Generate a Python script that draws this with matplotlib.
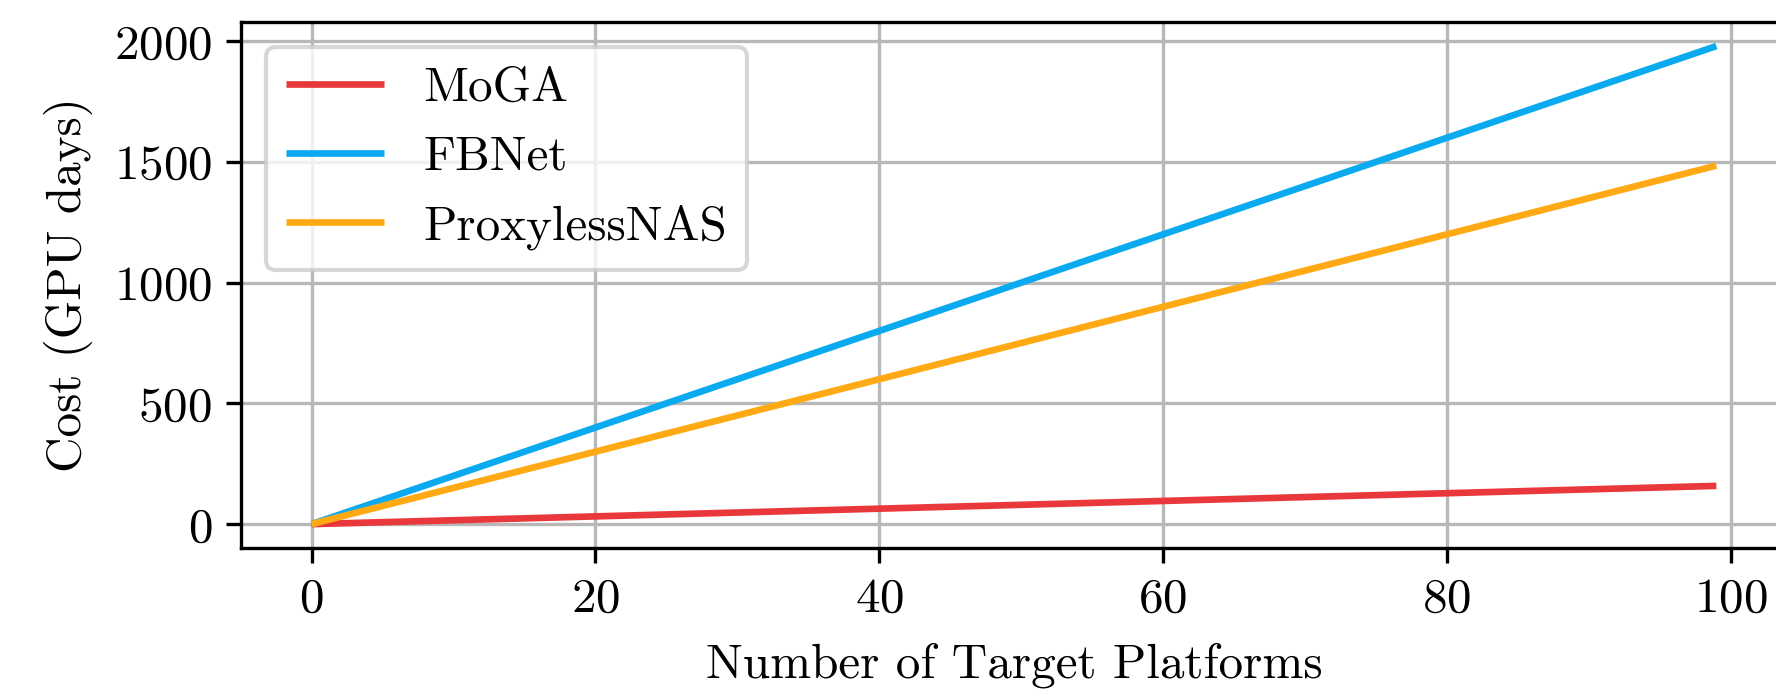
import matplotlib
matplotlib.use("Agg")
import matplotlib.pyplot as plt

# Search cost versus number of deployment platforms
platforms = [0, 99]
moga_cost = [0, 158.4]
fbnet_cost = [0, 1980]
proxyless_cost = [0, 1485]

series_names = ["MoGA", "FBNet", "ProxylessNAS"]
series_colors = ["#e8383b", "#0aaaf0", "#ffaa14"]

plt.rcParams.update({
    "font.family": "serif",
    "font.serif": ["cmr10"],
    "mathtext.fontset": "cm",
    "axes.formatter.use_mathtext": True,
    "font.size": 11.8,
    "axes.linewidth": 0.8,
})

fig = plt.figure(figsize=(1777 / 300, 693 / 300), dpi=300)
ax = fig.add_axes([0.1358, 0.2092, 1.0054 - 0.1358, 0.968 - 0.2092])

for ys, name, col in zip([moga_cost, fbnet_cost, proxyless_cost], series_names, series_colors):
    ax.plot(platforms, ys, color=col, lw=1.6, label=name, solid_capstyle="butt")

ax.set_xticks([0, 20, 40, 60, 80, 100])
ax.set_yticks([0, 500, 1000, 1500, 2000])
ax.grid(True, color="#b8b8b8", lw=0.8)
ax.set_axisbelow(True)
ax.set_xlabel("Number of Target Platforms", labelpad=5)
ax.set_ylabel("Cost (GPU days)", labelpad=5)

ax.legend(loc="upper left", handlelength=2.0, framealpha=0.8, borderaxespad=0.5)

fig.savefig("out.png", dpi=300)
